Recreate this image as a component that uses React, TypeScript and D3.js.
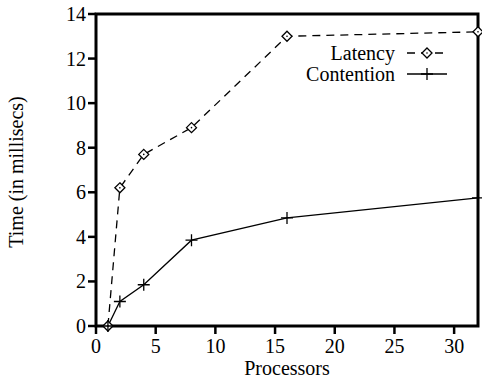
import React from "react";
import * as d3 from "d3";

// Processor counts and measured times (ms)
const processors = [1, 2, 4, 8, 16, 32];
const latency = [0, 6.2, 7.7, 8.9, 13.0, 13.2];
const contention = [0, 1.1, 1.85, 3.85, 4.85, 5.75];
const xTicks = [0, 5, 10, 15, 20, 25, 30];
const yTicks = [0, 2, 4, 6, 8, 10, 12, 14];

const W = 482;
const H = 381;
const m = { left: 96, right: 4, top: 14, bottom: 55 };
const textStyle: React.CSSProperties = { fontFamily: "Liberation Serif", fontSize: 20 };

export default function App() {
  const x = d3.scaleLinear().domain([0, 32]).range([m.left, W - m.right]);
  const y = d3.scaleLinear().domain([0, 14]).range([H - m.bottom, m.top]);

  const lat = processors.map((p, i) => [p, latency[i]] as [number, number]);
  const con = processors.map((p, i) => [p, contention[i]] as [number, number]);
  const line = d3
    .line<[number, number]>()
    .x((d) => x(d[0]))
    .y((d) => y(d[1]));

  const diamond = (cx: number, cy: number, r = 5) =>
    `M${cx},${cy - r}L${cx + r},${cy}L${cx},${cy + r}L${cx - r},${cy}Z`;
  const plus = (cx: number, cy: number, r = 6) =>
    `M${cx - r},${cy}H${cx + r}M${cx},${cy - r}V${cy + r}`;

  const legX = 395;
  const legLine0 = 407;
  const legLine1 = 447;
  const legMid = (legLine0 + legLine1) / 2;

  return (
    <svg width={W} height={H} style={{ position: "absolute", left: 0, top: 0 }}>
      <rect width={W} height={H} fill="#fff" />
      {/* y ticks */}
      {yTicks.map((t) => (
        <g key={"y" + t}>
          <line x1={m.left - 8} x2={m.left} y1={y(t)} y2={y(t)} stroke="#000" strokeWidth={2.5} />
          <text x={m.left - 10} y={y(t)} dy="0.35em" textAnchor="end" style={textStyle}>
            {t}
          </text>
        </g>
      ))}
      {/* x ticks */}
      {xTicks.map((t) => (
        <g key={"x" + t}>
          <line x1={x(t)} x2={x(t)} y1={y(0)} y2={y(0) + 8} stroke="#000" strokeWidth={2.5} />
          <text x={x(t)} y={y(0) + 27} textAnchor="middle" style={textStyle}>
            {t}
          </text>
        </g>
      ))}
      {/* frame */}
      <rect
        x={m.left}
        y={m.top}
        width={W - m.right - m.left}
        height={H - m.bottom - m.top}
        fill="none"
        stroke="#000"
        strokeWidth={3}
      />
      <text x={287} y={375} textAnchor="middle" style={textStyle}>
        Processors
      </text>
      <text transform={`translate(23,172) rotate(-90)`} textAnchor="middle" style={textStyle}>
        Time (in millisecs)
      </text>

      {/* series */}
      <path d={line(lat) ?? ""} fill="none" stroke="#000" strokeWidth={1.3} strokeDasharray="8,6" />
      <path d={line(con) ?? ""} fill="none" stroke="#000" strokeWidth={1.3} />
      {lat.map((d, i) => (
        <path key={"l" + i} d={diamond(x(d[0]), y(d[1]))} fill="#fff" stroke="#000" strokeWidth={1.3} />
      ))}
      {lat.map((d, i) => (
        <circle key={"c" + i} cx={x(d[0])} cy={y(d[1])} r={0.8} fill="#000" />
      ))}
      {con.map((d, i) => (
        <path key={"p" + i} d={plus(x(d[0]), y(d[1]))} fill="none" stroke="#000" strokeWidth={1.3} />
      ))}

      {/* legend */}
      <text x={legX} y={53} dy="0.35em" textAnchor="end" style={textStyle}>
        Latency
      </text>
      <line x1={legLine0} x2={legLine1} y1={53} y2={53} stroke="#000" strokeWidth={1.3} strokeDasharray="8,6" />
      <path d={diamond(legMid, 53)} fill="#fff" stroke="#000" strokeWidth={1.3} />
      <circle cx={legMid} cy={53} r={0.8} fill="#000" />
      <text x={legX} y={74} dy="0.35em" textAnchor="end" style={textStyle}>
        Contention
      </text>
      <line x1={legLine0} x2={legLine1} y1={74} y2={74} stroke="#000" strokeWidth={1.3} />
      <path d={plus(legMid, 74)} fill="none" stroke="#000" strokeWidth={1.3} />
    </svg>
  );
}
